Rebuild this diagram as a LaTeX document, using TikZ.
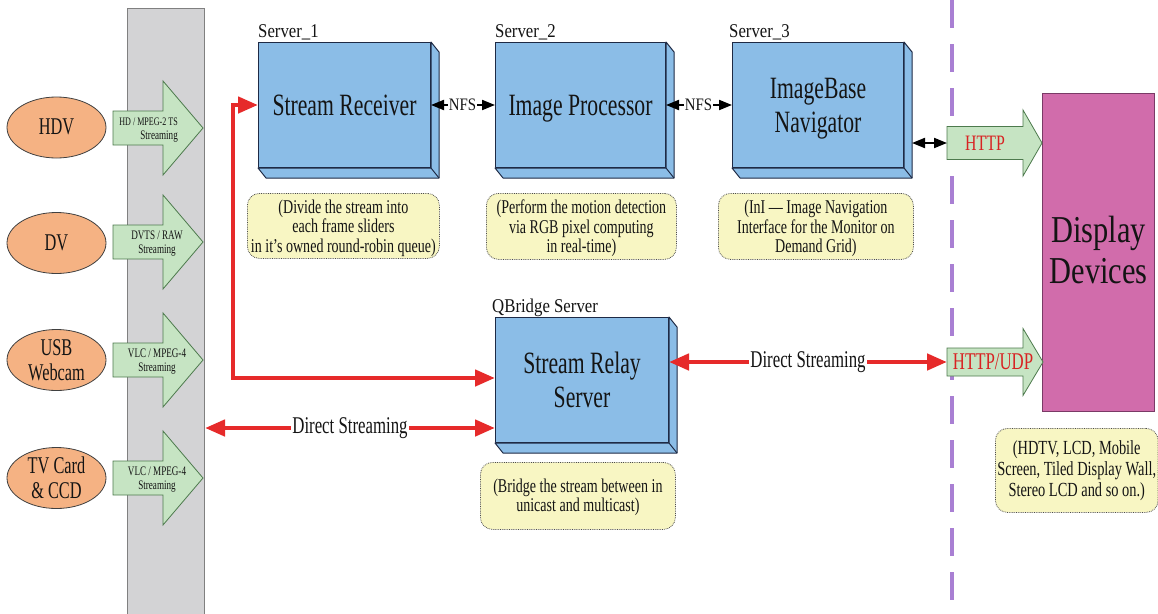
\documentclass[tikz,border=0pt]{standalone}
\usepackage{fontspec}
\setmainfont{Liberation Serif}
\usepackage{graphicx}
\usetikzlibrary{shapes.geometric,arrows.meta,calc}
\newcommand\sz[2]{\fontsize{#1}{#2}\selectfont}
\newcommand\sx[2]{\scalebox{#1}[1]{\begin{tabular}{@{}c@{}}#2\end{tabular}}}
\newcommand\sxd[3]{\raisebox{#1}[\height][\depth]{\scalebox{#2}[1]{\begin{tabular}{@{}c@{}}#3\end{tabular}}}}
\newcommand\sxr[2]{\scalebox{#1}[1]{\begin{tabular}{@{}r@{}}#2\end{tabular}}}
\definecolor{grayfill}{HTML}{D3D3D5}
\definecolor{grayline}{HTML}{808080}
\definecolor{orangefill}{HTML}{F5B283}
\definecolor{greenfill}{HTML}{C6E4C3}
\definecolor{greenline}{HTML}{4D7A4D}
\definecolor{bluefill}{HTML}{8BBDE7}
\definecolor{blueline}{HTML}{1E2A45}
\definecolor{notefill}{HTML}{F8F6C3}
\definecolor{redarr}{HTML}{E62A2A}
\definecolor{magfill}{HTML}{D16CAB}
\definecolor{magline}{HTML}{7A3A66}
\definecolor{lav}{HTML}{A97FD3}
\definecolor{httpred}{HTML}{D82323}
\newcommand\srvbox[1]{%
  \draw[srvstyle] (#1.north east) -- ($(#1.north east)+(8,10)$) -- ($(#1.south east)+(8,10)$) -- ($(#1.south west)+(8,10)$) -- (#1.south west) -- (#1.south east) -- cycle;
  \draw[srvstyle] (#1.south east) -- ($(#1.south east)+(8,10)$);}
% x0, xb, xt, yc, bh, hh
\newcommand\grarrow[6]{%
  \draw[grarr] (#1,#4-#5) -- (#2,#4-#5) -- (#2,#4-#6) -- (#3,#4) -- (#2,#4+#6) -- (#2,#4+#5) -- (#1,#4+#5) -- cycle;}
\begin{document}
\begin{tikzpicture}[x=1pt,y=-1pt,
  graybar/.style={draw=grayline,fill=grayfill,line width=1pt,rectangle,inner sep=0},
  src/.style={ellipse,draw=black!75,fill=orangefill,line width=0.8pt,minimum width=99,minimum height=61,inner sep=0},
  srctext/.style={font=\sz{24}{25},align=center,text=black!92,inner sep=0},
  srvstyle/.style={draw=blueline,fill=bluefill,line width=1pt,line join=round},
  srv/.style={srvstyle,rectangle,anchor=north west,minimum height=125,inner sep=0,font=\sz{31}{34},align=center,text=black!92},
  lab/.style={font=\sz{19.5}{21},anchor=base west,inner sep=0,text=black!92},
  grarr/.style={draw=greenline,fill=greenfill,line width=0.8pt,line join=miter},
  grtext/.style={font=\sz{13}{14},align=center,inner sep=0,text=black!92},
  note/.style={rectangle,rounded corners=12,draw=black!70,densely dotted,line width=0.8pt,fill=notefill,anchor=north west,inner sep=2pt,align=center,font=\sz{19.5}{19.5},text=black!92},
  blk/.style={line width=2pt,black,{Triangle[length=13pt,width=10pt]}-{Triangle[length=13pt,width=10pt]}},
  blkone/.style={line width=2pt,black,-{Triangle[length=13pt,width=10pt]}},
  redline/.style={line width=4.5pt,redarr,line join=miter,{Triangle[length=20pt,width=16pt]}-{Triangle[length=20pt,width=16pt]}},
  dstext/.style={fill=white,inner sep=1pt,font=\sz{24}{26},text=black!92},
  nfs/.style={inner sep=1pt,font=\sz{17.5}{18},text=black!92},
  httptext/.style={inner sep=0,font=\sz{22}{24},text=httpred}
]
\useasboundingbox (0,0) rectangle (1158,613);
% dashed separator
\coordinate (dtop) at (952,0);
\coordinate (dbot) at (952,613);
\draw[lav,line width=3.5pt,dash pattern=on 28pt off 16pt] (dtop) -- (dbot);
% gray bar
\node[graybar,minimum width=77,minimum height=620,anchor=north west] (bar) at (127,8) {};
% sources
\node[src,label={[srctext]center:{\sxd{-2pt}{0.68}{HDV}}}] (hdv) at (56.5,127.5) {};
\node[src,label={[srctext]center:{\sxd{-2pt}{0.68}{DV}}}] (dv) at (56.5,243) {};
\node[src,label={[srctext]center:{\sxd{-3pt}{0.68}{USB\\Webcam}}}] (usb) at (56.5,360) {};
\node[src,label={[srctext]center:{\sxd{-3pt}{0.68}{TV Card\\\& CCD}}}] (tv) at (56.5,478) {};
% green arrows on the bar
\grarrow{113}{163}{203}{128}{17}{47}
\grarrow{113}{163}{203}{242}{17}{47}
\grarrow{113}{163}{203}{360}{17}{47}
\grarrow{113}{163}{203}{478}{17}{47}
\node[grtext,anchor=east] (a1) at (178,130) {\sxr{0.7}{{\sz{11.5}{14}HD / MPEG-2 TS}\\Streaming}};
\node[grtext] (a2) at (157,244) {\sx{0.7}{DVTS / RAW\\Streaming}};
\node[grtext] (a3) at (157,362) {\sx{0.7}{VLC / MPEG-4\\Streaming}};
\node[grtext] (a4) at (157,480) {\sx{0.7}{VLC / MPEG-4\\Streaming}};
% servers
\node[srv,minimum width=172] (s1) at (258,42) {\sxd{-3.5pt}{0.7}{Stream Receiver}};
\srvbox{s1}
\node[srv,minimum width=170] (s2) at (495,42) {\sxd{-3.5pt}{0.7}{Image Processor}};
\srvbox{s2}
\node[srv,minimum width=171] (s3) at (732,42) {\sxd{-4pt}{0.7}{ImageBase\\Navigator}};
\srvbox{s3}
\node[srv,minimum width=173] (relay) at (495,317) {\sxd{-4pt}{0.7}{Stream Relay\\Server}};
\srvbox{relay}
\node[lab] (l1) at (258,37) {\scalebox{0.86}[1]{Server\_1}};
\node[lab] (l2) at (495,37) {\scalebox{0.86}[1]{Server\_2}};
\node[lab] (l3) at (729,37) {\scalebox{0.86}[1]{Server\_3}};
\node[lab] (l4) at (492,312) {\scalebox{0.86}[1]{QBridge Server}};
% notes
\node[note,minimum width=192,minimum height=65] (n1) at (247,193) {\sxd{-3pt}{0.72}{(Divide the stream into\\each frame sliders\\in it’s owned round-robin queue)}};
\node[note,minimum width=190,minimum height=66] (n2) at (486,193) {\sxd{-3pt}{0.72}{(Perform the motion detection\\via RGB pixel computing\\in real-time)}};
\node[note,minimum width=195,minimum height=66] (n3) at (718,193) {\sxd{-3pt}{0.72}{(InI — Image Navigation\\Interface for the Monitor on\\Demand Grid)}};
\node[note,minimum width=195,minimum height=67] (n5) at (480,462) {\sxd{-2pt}{0.72}{(Bridge the stream between in\\unicast and multicast)}};
\node[note,minimum width=162,minimum height=84,font=\sz{20}{21}] (n4) at (995,428) {\sxd{-1pt}{0.72}{(HDTV, LCD, Mobile\\Screen, Tiled Display Wall,\\Stereo LCD and so on.)}};
% display devices
\node[rectangle,draw=magline,fill=magfill,line width=1pt,anchor=north west,minimum width=112,minimum height=318,inner sep=0,align=center,font=\sz{38}{41},text=black!92] (disp) at (1042,93) {\sxd{-2pt}{0.8}{Display\\Devices}};
% HTTP arrows
\grarrow{947}{1023}{1042}{143}{16.5}{33}
\grarrow{947}{1023}{1043}{362}{14}{33.5}
\node[httptext] (http) at (985,143) {\scalebox{0.72}[1]{HTTP}};
\node[httptext,font=\sz{24}{26}] (httpudp) at (993,362) {\scalebox{0.7}[1]{HTTP/UDP}};
\coordinate (httpin) at (947,143);
\coordinate (udpin) at (947,362);
% NFS connectors
\node[nfs] (nfs1) at (462.5,105) {\scalebox{0.85}[1]{NFS}};
\node[nfs] (nfs2) at (698.5,105) {\scalebox{0.85}[1]{NFS}};
\draw[blkone] (nfs1.west) -- (s1.east |- nfs1.west);
\draw[blkone] (nfs1.east) -- (s2.west |- nfs1.east);
\draw[blkone] (nfs2.west) -- (s2.east |- nfs2.west);
\draw[blkone] (nfs2.east) -- (s3.west |- nfs2.east);
\coordinate (s3side) at ($(s3.east)+(8,0)$);
\draw[blk] (s3side |- httpin) -- (httpin);
% red connectors
\coordinate (lcorner) at (233,378);
\coordinate (ds1y) at (0,428);
\coordinate (ds2y) at (0,362);
\draw[redline] (s1.west |- 0,105) -| (lcorner) -- (relay.west |- lcorner);
\draw[redline] (bar.east |- ds1y) -- node[dstext] (ds1) {\scalebox{0.7}[1]{Direct Streaming}} (relay.west |- ds1y);
\draw[redline] (relay.east |- ds2y) -- node[dstext] (ds2) {\scalebox{0.7}[1]{Direct Streaming}} (udpin);
\end{tikzpicture}
\end{document}
